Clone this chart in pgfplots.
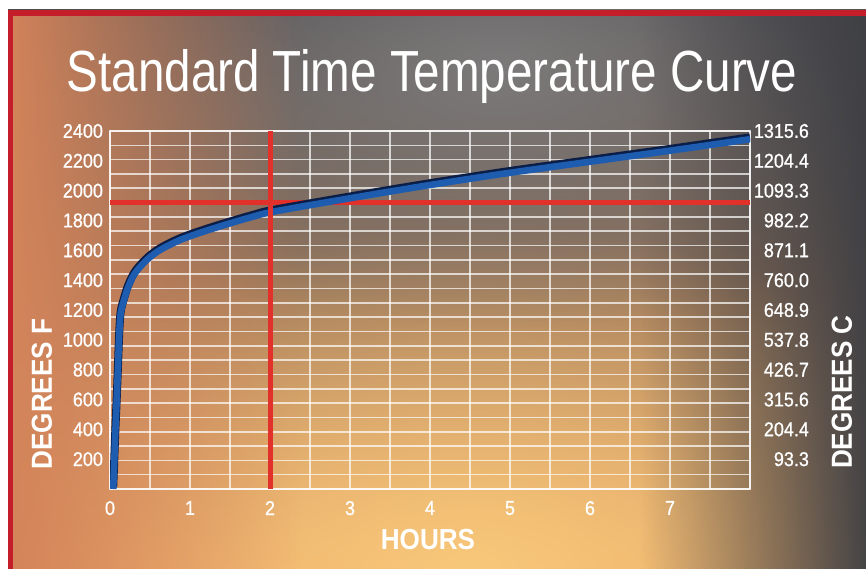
\documentclass[border=0pt]{standalone}
\usepackage{fontspec}
\setmainfont{Liberation Sans}
\newfontfamily\titlefont{Liberation Sans}[FakeStretch=0.82]
\newfontfamily\tickfont{Liberation Sans}[FakeStretch=0.9, FakeBold=0.8]
\newfontfamily\labfont{Liberation Sans}[FakeStretch=0.9]
\usepackage{pgfplots}
\pgfplotsset{compat=1.18}
\usetikzlibrary{fadings}
\definecolor{bgtop}{HTML}{4A484C}
\definecolor{bgmid}{HTML}{8A6456}
\definecolor{bgbot}{HTML}{EBA466}
\definecolor{leftglow}{HTML}{D4845A}
\definecolor{rightdark}{HTML}{3E3F44}
\definecolor{botglow}{HTML}{F8C87A}
\definecolor{topglow}{HTML}{7C7A7A}
\definecolor{curveblue}{HTML}{1E5CB0}
\definecolor{curvenavy}{HTML}{0B1E48}
\definecolor{redline}{HTML}{E2302A}
\definecolor{borderred}{HTML}{C41E2A}
\tikzfading[name=fadewest, left color=transparent!0, right color=transparent!100]
\tikzfading[name=fadeeast, left color=transparent!100, right color=transparent!0]
\tikzfading[name=glow, inner color=transparent!0, outer color=transparent!100]

\pgfplotstableread{
x y
0.040 0
0.054 194
0.066 373
0.084 597
0.100 820
0.116 1044
0.134 1178
0.175 1267
0.229 1356
0.312 1446
0.459 1535
0.625 1602
0.875 1669
1.166 1725
1.500 1781
1.790 1826
2.040 1859
3.000 1949
4.000 2038
5.000 2120
6.000 2194
7.000 2268
8.000 2345
}\curvedata

\begin{document}
\begin{tikzpicture}
\fill[white] (-3pt,279pt) rectangle (436pt,287pt);
\fill[white] (-3pt,-3pt) rectangle (4pt,287pt);
\begin{scope}
\clip (4pt,-5pt) rectangle (438pt,279pt);
\shade[top color=bgtop, middle color=bgmid, bottom color=bgbot] (4pt,-5pt) rectangle (438pt,279pt);
\fill[botglow, path fading=glow] (235pt,0pt) ellipse (300pt and 170pt);
\fill[topglow, path fading=glow] (250pt,250pt) ellipse (260pt and 130pt);
\fill[leftglow, path fading=fadewest] (4pt,-5pt) rectangle (150pt,279pt);
\fill[rightdark, path fading=fadeeast] (320pt,-5pt) rectangle (438pt,279pt);
\end{scope}
\draw[borderred, line width=2.8pt] (5.3pt,-5pt) -- (5.3pt,277.6pt) -- (438pt,277.6pt);

\node[anchor=base, white, font=\titlefont\fontsize{29}{30}\selectfont] at (216pt,238pt) {Standard Time Temperature Curve};

\begin{axis}[
  at={(55pt,39.5pt)}, anchor=south west,
  width=320pt, height=179pt, scale only axis,
  xmin=0, xmax=8, ymin=0, ymax=2400,
  xtick={0,...,7}, minor xtick={0,0.5,...,8},
  ytick={200,400,...,2400}, minor ytick={0,96,...,2400},
  xminorgrids=true, yminorgrids=true,
  minor grid style={white, opacity=0.7, line width=0.8pt},
  major tick length=0pt, minor tick length=0pt,
  axis line style={white, opacity=0.7, line width=0.8pt},
  tick label style={white, font=\tickfont\fontsize{10}{12}\selectfont},
  /pgf/number format/assume math mode=true,
  /pgf/number format/1000 sep={},
  xticklabel style={yshift=-2.5pt},
]
\addplot[redline, line width=2.5pt] coordinates {(0,1920) (8,1920)};
\addplot[curvenavy, line width=4pt, yshift=0.9pt, smooth, tension=0.5] table[x=x,y=y] {\curvedata};
\addplot[curveblue, line width=3.3pt, smooth, tension=0.5] table[x=x,y=y] {\curvedata};
\addplot[redline, line width=2.5pt] coordinates {(2,0) (2,2400)};
\end{axis}

\begin{axis}[
  at={(55pt,39.5pt)}, anchor=south west,
  width=320pt, height=179pt, scale only axis,
  xmin=0, xmax=8, ymin=0, ymax=2400,
  axis x line=none, axis y line*=right,
  axis line style={draw=none},
  major tick length=0pt,
  ytick={200,400,...,2400},
  yticklabels={93.3,204.4,315.6,426.7,537.8,648.9,760.0,871.1,982.2,1093.3,1204.4,1315.6},
  yticklabel style={anchor=east, xshift=33pt, white, font=\tickfont\fontsize{10}{12}\selectfont},
]
\end{axis}

\node[rotate=90, white, font=\labfont\bfseries\fontsize{14.5}{16}\selectfont] at (21pt,87pt) {DEGREES F};
\node[rotate=90, white, font=\labfont\bfseries\fontsize{14.5}{16}\selectfont] at (421pt,88pt) {DEGREES C};
\node[white, font=\labfont\bfseries\fontsize{14.5}{16}\selectfont] at (214pt,14pt) {HOURS};
\pgfresetboundingbox
\path[use as bounding box] (0,0) rectangle (433pt,284pt);
\end{tikzpicture}
\end{document}
